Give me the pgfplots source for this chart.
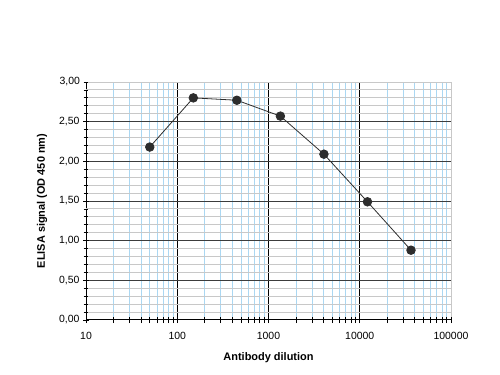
\documentclass[border=0pt]{standalone}
\usepackage{pgfplots}
\pgfplotsset{compat=1.18}
\usepackage{fontspec}
\setmainfont{Liberation Sans}
\definecolor{gridblue}{RGB}{170,215,242}
\definecolor{gridgray}{RGB}{200,200,200}
\definecolor{majgray}{RGB}{60,60,60}
\definecolor{pt}{RGB}{45,45,45}
\begin{document}
\begin{tikzpicture}
\path[use as bounding box] (0,0) rectangle (500bp,375bp);
\begin{axis}[
  at={(86bp,55bp)}, anchor=south west,
  scale only axis, width=365bp, height=238bp,
  xmode=log, log basis x=10,
  xmin=10, xmax=100000, ymin=0, ymax=3,
  axis x line*=bottom, axis y line*=left,
  axis line style={-, black, line width=1bp},
  xtick={10,100,1000,10000}, xticklabels={10,100,1000,10000},
  extra x ticks={100000}, extra x tick labels={100000},
  extra x tick style={major x grid style={gridgray, line width=1bp}},
  minor xtick={20,30,40,50,60,70,80,90,200,300,400,500,600,700,800,900,2000,3000,4000,5000,6000,7000,8000,9000,20000,30000,40000,50000,60000,70000,80000,90000},
  ytick={0,0.5,1,1.5,2,2.5},
  extra y ticks={3,0.1,0.2,0.3,0.4,0.6,0.7,0.8,0.9,1.1,1.2,1.3,1.4,1.6,1.7,1.8,1.9,2.1,2.2,2.3,2.4,2.6,2.7,2.8,2.9},
  extra y tick labels={3{,}00},
  extra y tick style={major y grid style={gridgray, line width=1bp}, major tick length=5bp},
  grid=both,
  minor x grid style={gridblue, line width=0.8bp},
  major x grid style={black, line width=1bp},
  minor y grid style={draw=none},
  major y grid style={majgray, line width=1bp},
  tick align=center,
  major tick length=6bp, minor tick length=6bp,
  tick style={black, line width=0.8bp},
  /pgf/number format/assume math mode=true,
  yticklabel style={/pgf/number format/.cd, fixed, fixed zerofill, precision=2, use comma},
  ticklabel style={font=\fontsize{10.5}{12}\selectfont},
  xticklabel style={yshift=-6bp},
  xlabel={Antibody dilution},
  ylabel={ELISA signal (OD 450 nm)},
  label style={font=\bfseries\fontsize{11}{13}\selectfont},
  xlabel style={at={(axis description cs:0.5,-0.16)}, anchor=center},
  ylabel style={at={(axis description cs:-0.1205,0.5)}, anchor=center},
  clip=false,
]
\addplot[color=pt, line width=0.8bp, mark=*, mark size=4.3bp, mark options={fill=pt, draw=pt}]
  coordinates {(50,2.18) (150,2.80) (450,2.77) (1350,2.57) (4050,2.09) (12150,1.49) (36450,0.88)};
\end{axis}
\end{tikzpicture}
\end{document}
